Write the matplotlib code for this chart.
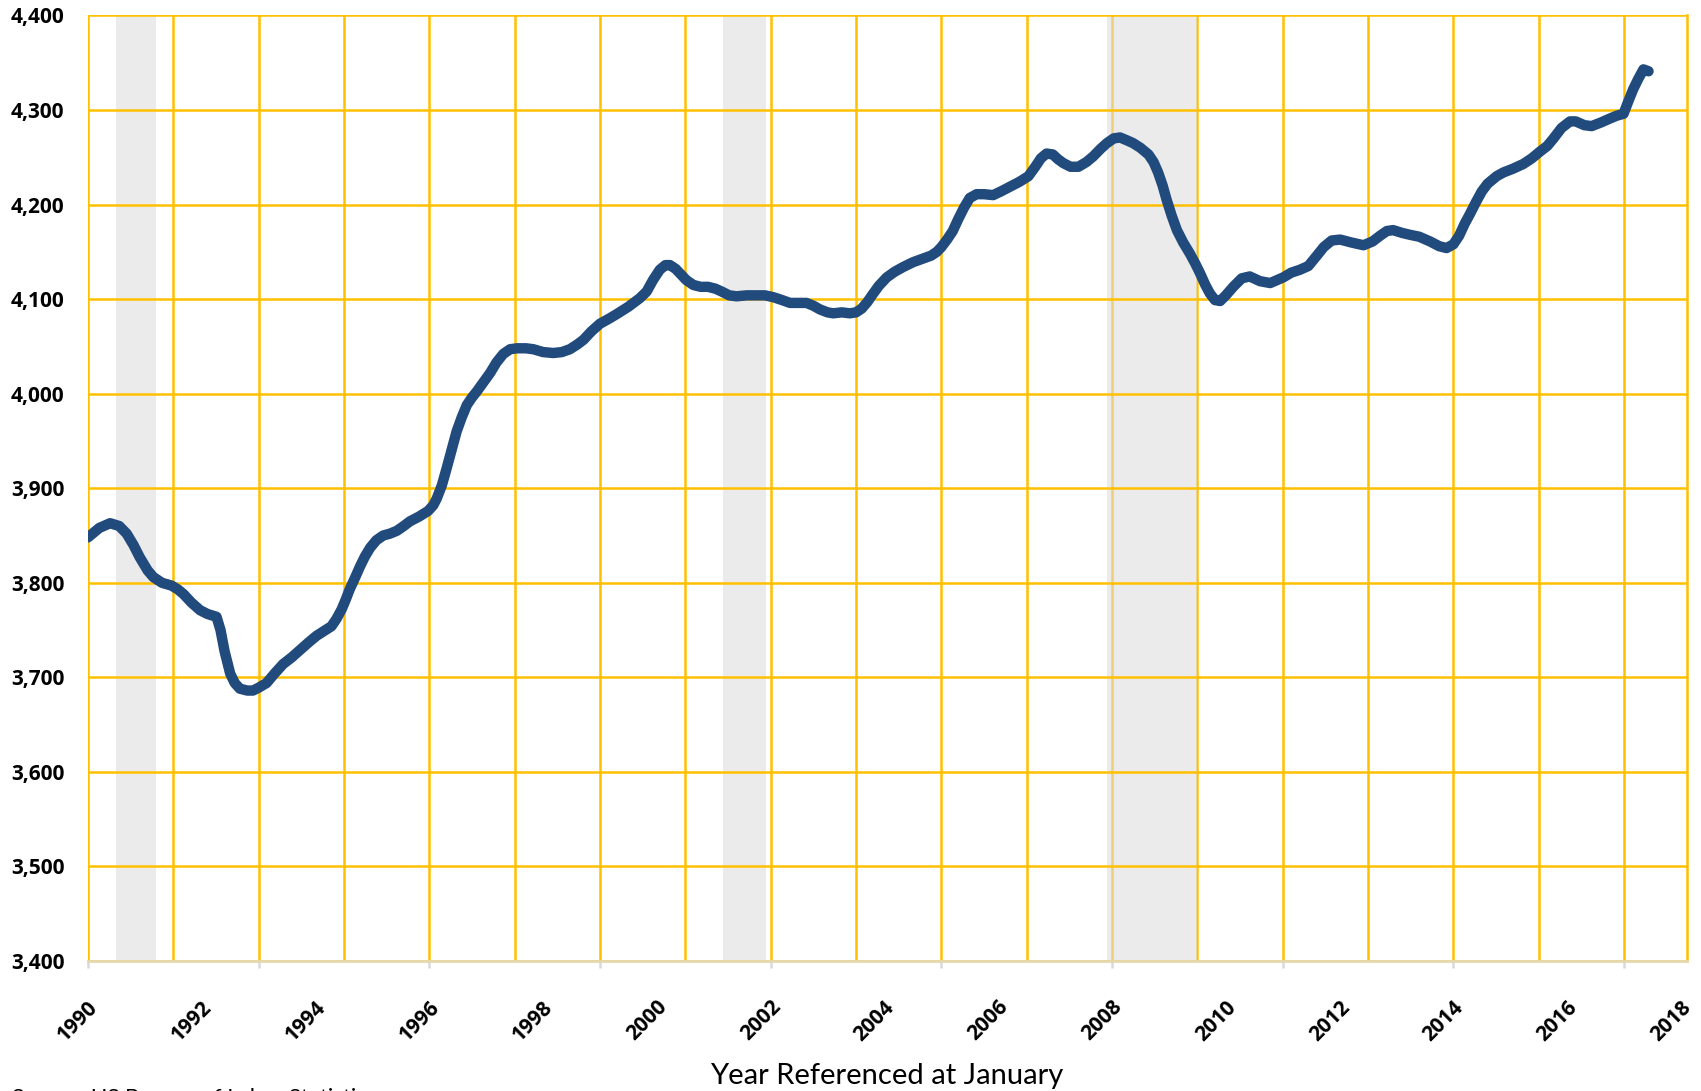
import numpy as np
import matplotlib
matplotlib.use('Agg')
import matplotlib.pyplot as plt
from matplotlib.transforms import ScaledTranslation

# values (year fraction, thousands)
years = [1990.0, 1990.2, 1990.39, 1990.55, 1990.68, 1990.8, 1990.91, 1991.05, 1991.15, 1991.3,
         1991.47, 1991.58, 1991.68, 1991.82, 1991.97, 1992.1, 1992.26, 1992.33, 1992.4, 1992.5,
         1992.58, 1992.67, 1992.8, 1992.9, 1993.0, 1993.14, 1993.28, 1993.43, 1993.58, 1993.73,
         1993.88, 1994.02, 1994.15, 1994.28, 1994.37, 1994.46, 1994.53, 1994.6, 1994.7, 1994.78,
         1994.87, 1994.96, 1995.07, 1995.19, 1995.31, 1995.43, 1995.55, 1995.66, 1995.82, 1995.98,
         1996.07, 1996.13, 1996.22, 1996.3, 1996.39, 1996.48, 1996.57, 1996.66, 1996.75, 1996.83,
         1996.95, 1997.07, 1997.18, 1997.3, 1997.42, 1997.54, 1997.7, 1997.83, 1998.0, 1998.18,
         1998.33, 1998.47, 1998.6, 1998.71, 1998.85, 1999.0, 1999.15, 1999.29, 1999.5, 1999.7,
         1999.82, 1999.93, 2000.05, 2000.15, 2000.23, 2000.33, 2000.41, 2000.52, 2000.64, 2000.77,
         2000.9, 2001.03, 2001.14, 2001.27, 2001.4, 2001.58, 2001.75, 2001.9, 2002.05, 2002.2,
         2002.34, 2002.48, 2002.63, 2002.75, 2002.87, 2003.0, 2003.1, 2003.25, 2003.39, 2003.5,
         2003.6, 2003.7, 2003.78, 2003.9, 2004.04, 2004.18, 2004.33, 2004.5, 2004.68, 2004.82,
         2004.92, 2005.0, 2005.1, 2005.2, 2005.3, 2005.4, 2005.5, 2005.62, 2005.75, 2005.91,
         2006.05, 2006.21, 2006.37, 2006.53, 2006.65, 2006.75, 2006.85, 2006.96, 2007.05, 2007.14,
         2007.27, 2007.41, 2007.55, 2007.67, 2007.8, 2007.91, 2008.03, 2008.14, 2008.26, 2008.37,
         2008.5, 2008.64, 2008.73, 2008.81, 2008.89, 2008.96, 2009.05, 2009.14, 2009.25, 2009.37,
         2009.46, 2009.55, 2009.64, 2009.72, 2009.81, 2009.9, 2010.0, 2010.13, 2010.28, 2010.42,
         2010.6, 2010.78, 2011.01, 2011.15, 2011.3, 2011.45, 2011.6, 2011.72, 2011.86, 2012.01,
         2012.2, 2012.42, 2012.58, 2012.71, 2012.83, 2012.94, 2013.1, 2013.24, 2013.4, 2013.59,
         2013.75, 2013.88, 2014.0, 2014.1, 2014.2, 2014.29, 2014.4, 2014.5, 2014.6, 2014.76,
         2014.88, 2015.05, 2015.23, 2015.38, 2015.52, 2015.65, 2015.76, 2015.9, 2016.05, 2016.15,
         2016.3, 2016.43, 2016.6, 2016.75, 2016.87, 2016.99, 2017.08, 2017.16, 2017.25, 2017.34,
         2017.43]
values = [3848, 3858, 3863, 3860, 3852, 3840, 3827, 3813, 3806, 3800,
          3797, 3793, 3788, 3779, 3771, 3767, 3764, 3750, 3728, 3704,
          3694, 3688, 3686, 3686, 3689, 3694, 3704, 3714, 3721, 3729,
          3737, 3744, 3749, 3754, 3762, 3772, 3782, 3793, 3806, 3817,
          3828, 3837, 3845, 3850, 3852, 3855, 3860, 3865, 3870, 3876,
          3882, 3889, 3903, 3920, 3940, 3960, 3975, 3988, 3996, 4002,
          4012, 4022, 4033, 4042, 4047, 4048, 4048, 4047, 4044, 4043,
          4044, 4047, 4052, 4057, 4066, 4074, 4079, 4084, 4092, 4101,
          4108, 4120, 4131, 4136, 4136, 4132, 4127, 4120, 4115, 4113,
          4113, 4111, 4108, 4104, 4103, 4104, 4104, 4104, 4102, 4099,
          4096, 4096, 4096, 4093, 4089, 4086, 4085, 4086, 4085, 4086,
          4090, 4097, 4104, 4114, 4123, 4129, 4134, 4139, 4143, 4146,
          4150, 4155, 4163, 4172, 4185, 4197, 4207, 4211, 4211, 4210,
          4214, 4219, 4224, 4230, 4240, 4249, 4254, 4253, 4248, 4244,
          4240, 4240, 4245, 4251, 4259, 4265, 4270, 4271, 4268, 4265,
          4260, 4253, 4245, 4234, 4220, 4205, 4188, 4173, 4160, 4148,
          4138, 4127, 4115, 4106, 4099, 4098, 4104, 4113, 4122, 4124,
          4119, 4117, 4123, 4128, 4131, 4135, 4146, 4155, 4162, 4163,
          4160, 4157, 4161, 4167, 4172, 4173, 4170, 4168, 4166, 4161,
          4156, 4154, 4158, 4167, 4180, 4190, 4203, 4214, 4222, 4230,
          4234, 4238, 4243, 4249, 4256, 4262, 4270, 4281, 4288, 4288,
          4284, 4283, 4287, 4291, 4294, 4296, 4310, 4322, 4333, 4343,
          4341]

# recession periods (shaded)
recession_start = [1990.5, 2001.17, 2007.92]
recession_end = [1991.2, 2001.92, 2009.5]

year_labels = list(range(1990, 2019, 2))
y_ticks = list(range(3400, 4401, 100))

fig = plt.figure(figsize=(17.01, 10.91), dpi=100)
ax = fig.add_axes([0.0517, 0.1192, 0.9401, 0.8666])

gold = '#FFC000'
ax.set_xlim(1990, 2018.107)
ax.set_ylim(3400, 4400)

ax.set_yticks(y_ticks)
ax.set_yticklabels([f'{v:,}' for v in y_ticks])
ax.grid(axis='y', color=gold, lw=1.8, zorder=0)
ax.grid(axis='x', visible=False)
for gx in np.arange(1990, 2018.2, 1.5):
    ax.axvline(gx, color=gold, lw=1.8, zorder=0)

for s, e in zip(recession_start, recession_end):
    ax.axvspan(s, e, color='#DCDCDC', alpha=0.57, lw=0, zorder=1)

ax.plot(years, values, color='#214A7D', lw=7.5, solid_capstyle='round',
        solid_joinstyle='round', zorder=3)

ax.set_xticks(year_labels)
ax.set_xticklabels([str(y) for y in year_labels], rotation=45, ha='right',
                   rotation_mode='anchor', va='center')
ax.xaxis.remove_overlapping_locs = False
ax.set_xticks(np.arange(1990, 2018, 3), minor=True)
ax.tick_params(axis='x', which='major', length=0, pad=31)
ax.tick_params(axis='x', which='minor', length=5, width=1.8, color='#D9D9D9')
ax.tick_params(axis='y', length=0, pad=17)

shift = ScaledTranslation(5 / 72, 0, fig.dpi_scale_trans)
for lab in ax.get_xticklabels():
    lab.set_transform(lab.get_transform() + shift)

for lab in ax.get_xticklabels() + ax.get_yticklabels():
    lab.set_fontfamily('Open Sans')
    lab.set_fontweight('bold')
    lab.set_fontsize(15)

for side in ['top', 'left']:
    ax.spines[side].set_visible(False)
ax.spines['right'].set_color(gold)
ax.spines['right'].set_linewidth(1.8)
ax.spines['bottom'].set_color('#E6D8B0')
ax.spines['bottom'].set_linewidth(2)

fig.text(0.521, 0.0135, 'Year Referenced at January', ha='center', va='center',
         fontsize=21, family='Lato')
fig.text(0.007, 1 - 1088 / 1091, 'Source: US Bureau of Labor Statistics', ha='left',
         va='top', fontsize=16, family='Lato')

fig.savefig('out.png', dpi=100)
